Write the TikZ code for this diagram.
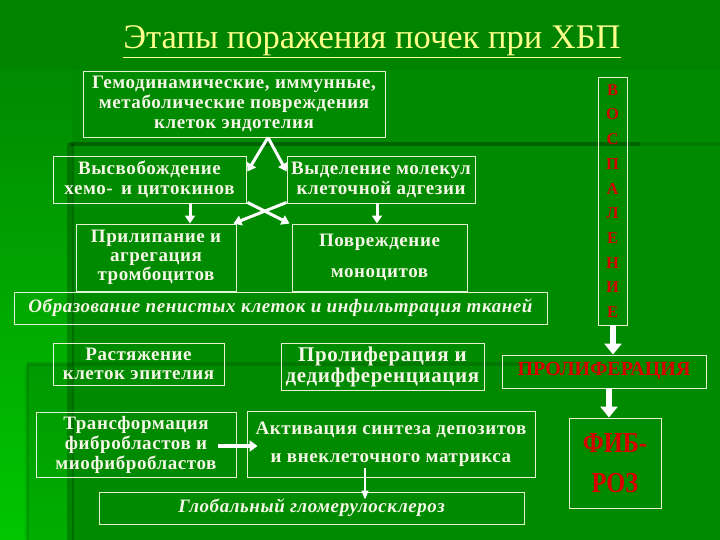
\documentclass[tikz,border=0pt]{standalone}
\usepackage{fontspec}
\setmainfont{Liberation Serif}
\newfontfamily\narrowserif[FakeStretch=0.84]{Liberation Serif}
\newfontfamily\spacedserif[LetterSpace=3]{Liberation Serif}
\usetikzlibrary{arrows.meta}
\definecolor{bgbase}{HTML}{008A00}
\definecolor{bgtop}{HTML}{008400}
\definecolor{bgbright}{HTML}{00C600}
\definecolor{boxline}{HTML}{E4F4D4}
\definecolor{txt}{HTML}{F6F6E6}
\definecolor{ttl}{HTML}{FFFF8C}
\definecolor{redtxt}{HTML}{D80000}
\tikzset{
  box/.style={draw=boxline, line width=0.9pt, align=center, inner sep=0pt, text=txt},
  dims/.style 2 args={minimum width=#1pt, minimum height=#2pt},
  warrow/.style={draw=white, line width=3pt, -{Triangle[width=10pt,length=8pt]}},
  bigarrow/.style={draw=white, line width=6pt, -{Triangle[width=17pt,length=11pt]}},
  thinarrow/.style={draw=white, line width=1.5pt, -{Triangle[width=7pt,length=9pt]}}
}
\begin{document}
\begin{tikzpicture}[x=1pt,y=-1pt]
\useasboundingbox (0,0) rectangle (720,540);
% background
\fill[bgbase] (0,0) rectangle (720,540);
\fill[bgtop] (0,0) rectangle (720,70);
\shade[top color=bgbase, bottom color=bgbright] (0,70) rectangle (72,540);
\fill[black, opacity=0.12] (27,364) rectangle (72,540);
\fill[black, opacity=0.22] (67,143) rectangle (74,540);
\fill[black, opacity=0.28] (70,142) rectangle (640,146);
\fill[black, opacity=0.10] (640,142) rectangle (720,146);
\fill[black, opacity=0.13] (27,362) rectangle (530,366);
\fill[black, opacity=0.10] (25,366) rectangle (29,540);

% title
\node[text=ttl, font=\fontsize{34.5}{38}\selectfont] (title) at (372,42) {\underline{Этапы поражения почек при ХБП}};

% boxes
\node[box, dims={302}{66}, font=\spacedserif\bfseries\fontsize{19}{20}\selectfont] (A) at (234,104) {Гемодинамические, иммунные,\\метаболические повреждения\\клеток эндотелия};
\node[box, dims={193}{47}, font=\spacedserif\bfseries\fontsize{19}{20}\selectfont] (B) at (149.5,179.5) {Высвобождение\\хемо-\, и цитокинов};
\node[box, dims={188}{47}, font=\spacedserif\bfseries\fontsize{19}{20}\selectfont] (C) at (381,179.5) {Выделение молекул\\клеточной адгезии};
\node[box, dims={160}{67}, font=\spacedserif\bfseries\fontsize{19}{19}\selectfont] (D) at (156,257.5) {Прилипание и\\агрегация\\тромбоцитов};
\node[box, dims={175}{67}, font=\spacedserif\bfseries\fontsize{19}{31}\selectfont] (E) at (379.5,257.5) {Повреждение\\моноцитов};
\node[box, dims={533}{32}, font=\spacedserif\bfseries\itshape\fontsize{19}{20}\selectfont] (F) at (280.5,308) {Образование пенистых клеток и инфильтрация тканей};
\node[box, dims={171}{42}, font=\spacedserif\bfseries\fontsize{19}{18.5}\selectfont] (G) at (138.5,364) {Растяжение\\клеток эпителия};
\node[box, dims={203}{47}, font=\spacedserif\bfseries\fontsize{21}{21}\selectfont] (H) at (382.5,366.5) {Пролиферация и\\дедифференциация};
\node[box, dims={204}{33}, text=redtxt, font=\bfseries\fontsize{20}{20}\selectfont] (P) at (604,371.5) {ПРОЛИФЕРАЦИЯ};
\node[box, dims={29}{248}, text=redtxt, font=\bfseries\fontsize{16.5}{24.7}\selectfont] (V) at (612.5,201) {В\\О\\С\\П\\А\\Л\\Е\\Н\\И\\Е};
\node[box, dims={200}{65}, font=\spacedserif\bfseries\fontsize{19}{20}\selectfont] (I) at (136,444.5) {Трансформация\\фибробластов и\\миофибробластов};
\node[box, dims={288}{66}, font=\spacedserif\bfseries\fontsize{19}{28}\selectfont] (J) at (391,444) {Активация синтеза депозитов\\и внеклеточного матрикса};
\node[box, dims={425}{32}, font=\spacedserif\bfseries\itshape\fontsize{19}{20}\selectfont] (K) at (311.5,508) {Глобальный гломерулосклероз};
\node[box, dims={92}{90}, text=redtxt, font=\narrowserif\bfseries\fontsize{29}{40}\selectfont] (Fib) at (615,463) {ФИБ-\\РОЗ};

% connectors
\draw[warrow] ([xshift=34pt]A.south) -- ([shift={(1,16)}]B.north east);
\draw[warrow] ([xshift=34pt]A.south) -- ([shift={(0,16)}]C.north west);
\draw[warrow] ([shift={(1,-1)}]B.south east) -- ([shift={(-2,0)}]E.north west);
\draw[warrow] ([shift={(0,-1)}]C.south west) -- ([shift={(-3,0)}]D.north east);
\draw[warrow] ([xshift=40.5pt]B.south) -- ([xshift=34pt]D.north);
\draw[warrow] ([xshift=-4pt]C.south) -- ([xshift=-2.5pt]E.north);
\draw[bigarrow] ([xshift=0.5pt]V.south) -- ([xshift=0.5pt]V.south |- P.north);
\draw[bigarrow] ([xshift=5pt]P.south) -- ([xshift=5pt]P.south |- Fib.north);
\draw[white, line width=4pt, -{Triangle[width=11pt,length=8pt]}] ([shift={(-18,1.5)}]I.east) -- ([shift={(11,2)}]J.west);
\draw[thinarrow] ([shift={(-26,-9)}]J.south) -- ([shift={(53.5,8)}]K.north);
\end{tikzpicture}
\end{document}
